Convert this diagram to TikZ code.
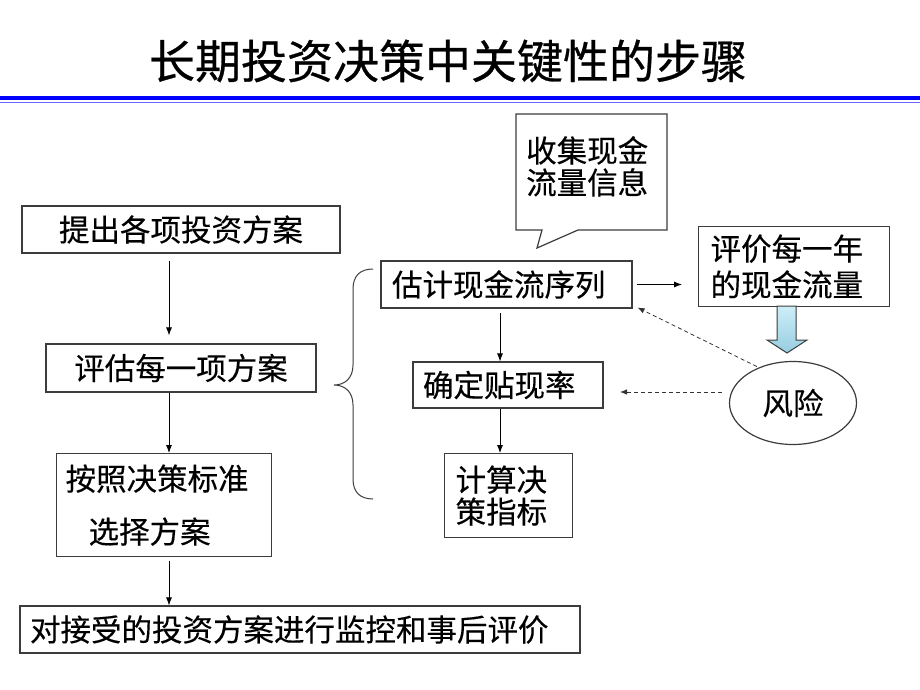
\documentclass[tikz,border=0pt]{standalone}
\usepackage{fontspec}
\newfontfamily\cjk[FakeBold=0.3]{Noto Sans CJK SC}
\newfontfamily\cjktitle[FakeBold=0.6]{Noto Sans CJK SC}
\usetikzlibrary{arrows.meta,calc,shapes.geometric}
\definecolor{boxline}{RGB}{60,60,60}
\definecolor{arrtop}{RGB}{205,238,248}
\definecolor{arrbot}{RGB}{150,205,225}
\tikzset{
  stepbox/.style={draw=boxline,line width=1.2pt,inner sep=0pt,font=\cjk\fontsize{30.5}{36}\selectfont},
  flow/.style={-{Latex[length=8pt,width=6pt]},line width=0.8pt,black},
  riskflow/.style={-{Latex[length=7pt,width=5.5pt]},line width=0.8pt,black!80,dash pattern=on 4pt off 3pt},
}
\begin{document}
\begin{tikzpicture}[x=1pt,y=-1pt]
\useasboundingbox (0,0) rectangle (920,690);
\fill[white] (0,0) rectangle (920,690);
% title
\node[font=\cjktitle\fontsize{46}{50}\selectfont,inner sep=0pt] (title) at (448,61) {长期投资决策中关键性的步骤};
\fill[blue] (0,96.5) rectangle (920,100.5);
\draw[blue!60,line width=1.5pt] (0,102.5) -- (920,102.5);
% left column
\node[stepbox,minimum width=318pt,minimum height=47pt] (p1) at (181,229.5) {提出各项投资方案};
\node[stepbox,minimum width=270pt,minimum height=48pt] (p2) at (181,368) {评估每一项方案};
\node[stepbox,anchor=north west,minimum width=215pt,minimum height=103pt,inner xsep=9pt,text width=197pt,align=left,font=\cjk\fontsize{30.5}{53}\selectfont] (p3) at (56,453) {按照决策标准\\\hspace*{23pt}选择方案};
\node[stepbox,minimum width=560pt,minimum height=47pt,inner xsep=10pt,text width=540pt,align=left] (p4) at (300,629.5) {对接受的投资方案进行监控和事后评价};
% right part
\node[stepbox,minimum width=251pt,minimum height=47pt,inner xsep=11pt,text width=229pt,align=left] (q1) at (506.5,284.5) {估计现金流序列};
\node[stepbox,minimum width=190pt,minimum height=46pt,inner xsep=10pt,text width=170pt,align=left] (q2) at (508,385) {确定贴现率};
\node[stepbox,anchor=north west,minimum width=128pt,minimum height=84pt,inner xsep=11pt,text width=106pt,align=left,font=\cjk\fontsize{30.5}{32}\selectfont] (q3) at (444,453) {计算决\\策指标};
\node[stepbox,anchor=north west,minimum width=191pt,minimum height=80pt,inner xsep=12pt,text width=167pt,align=left,font=\cjk\fontsize{30.5}{36}\selectfont] (r1) at (698,226) {评价每一年\\的现金流量};
\node[draw=boxline,line width=1.2pt,ellipse,minimum width=127pt,minimum height=83pt,inner sep=0pt,font=\cjk\fontsize{30.5}{36}\selectfont] (risk) at (793,403) {风险};
% callout
\draw[boxline,line width=1.2pt,fill=white] (516,114) -- (667,114) -- (667,230) -- (578,230) -- (537,248) -- (542,230) -- (516,230) -- cycle;
\node[anchor=north west,inner sep=0pt,text width=140pt,align=left,font=\cjk\fontsize{30.5}{32}\selectfont] (call) at (526,136) {收集现金\\流量信息};
% brace
\draw[boxline,line width=1pt] (373,269) .. controls (360,269) and (353,276) .. (353,289) -- (353,365) .. controls (353,378) and (345,385) .. (334,385) .. controls (345,385) and (353,392) .. (353,405) -- (353,479) .. controls (353,492) and (360,499) .. (373,499);
% left arrows
\coordinate (c1) at ($(p1.south)+(-12,0)$);
\coordinate (c2) at ($(p2.north)+(-12,0)$);
\coordinate (c3) at ($(p2.south)+(-12,0)$);
\draw[flow,shorten <=7pt,shorten >=8pt] (c1) -- (c2);
\draw[flow] (c3) -- (c3 |- p3.north);
\draw[flow,shorten <=4pt] (c3 |- p3.south) -- (c3 |- p4.north);
% right arrows
\coordinate (d1) at (500,308);
\draw[flow,shorten <=5pt] (d1) -- (d1 |- q2.north);
\draw[flow] (d1 |- q2.south) -- (d1 |- q3.north);
\draw[flow,shorten <=4pt,shorten >=16pt] (q1.east) -- (q1.east -| r1.west);
% thick arrow
\draw[boxline,line width=1pt,top color=arrtop,bottom color=arrbot] (777,306) -- (796,306) -- (796,340) -- (807,340) -- (787,353) -- (767,340) -- (777,340) -- cycle;
% dashed risk arrows
\coordinate (e1) at ($(q1.south east)+(5,-1)$);
\draw[riskflow,shorten <=2pt] (risk.134) -- (e1);
\coordinate (e2) at ($(risk.west)+(-7,-11)$);
\draw[riskflow] (e2) -- (e2 -| 620,0);
\end{tikzpicture}
\end{document}
